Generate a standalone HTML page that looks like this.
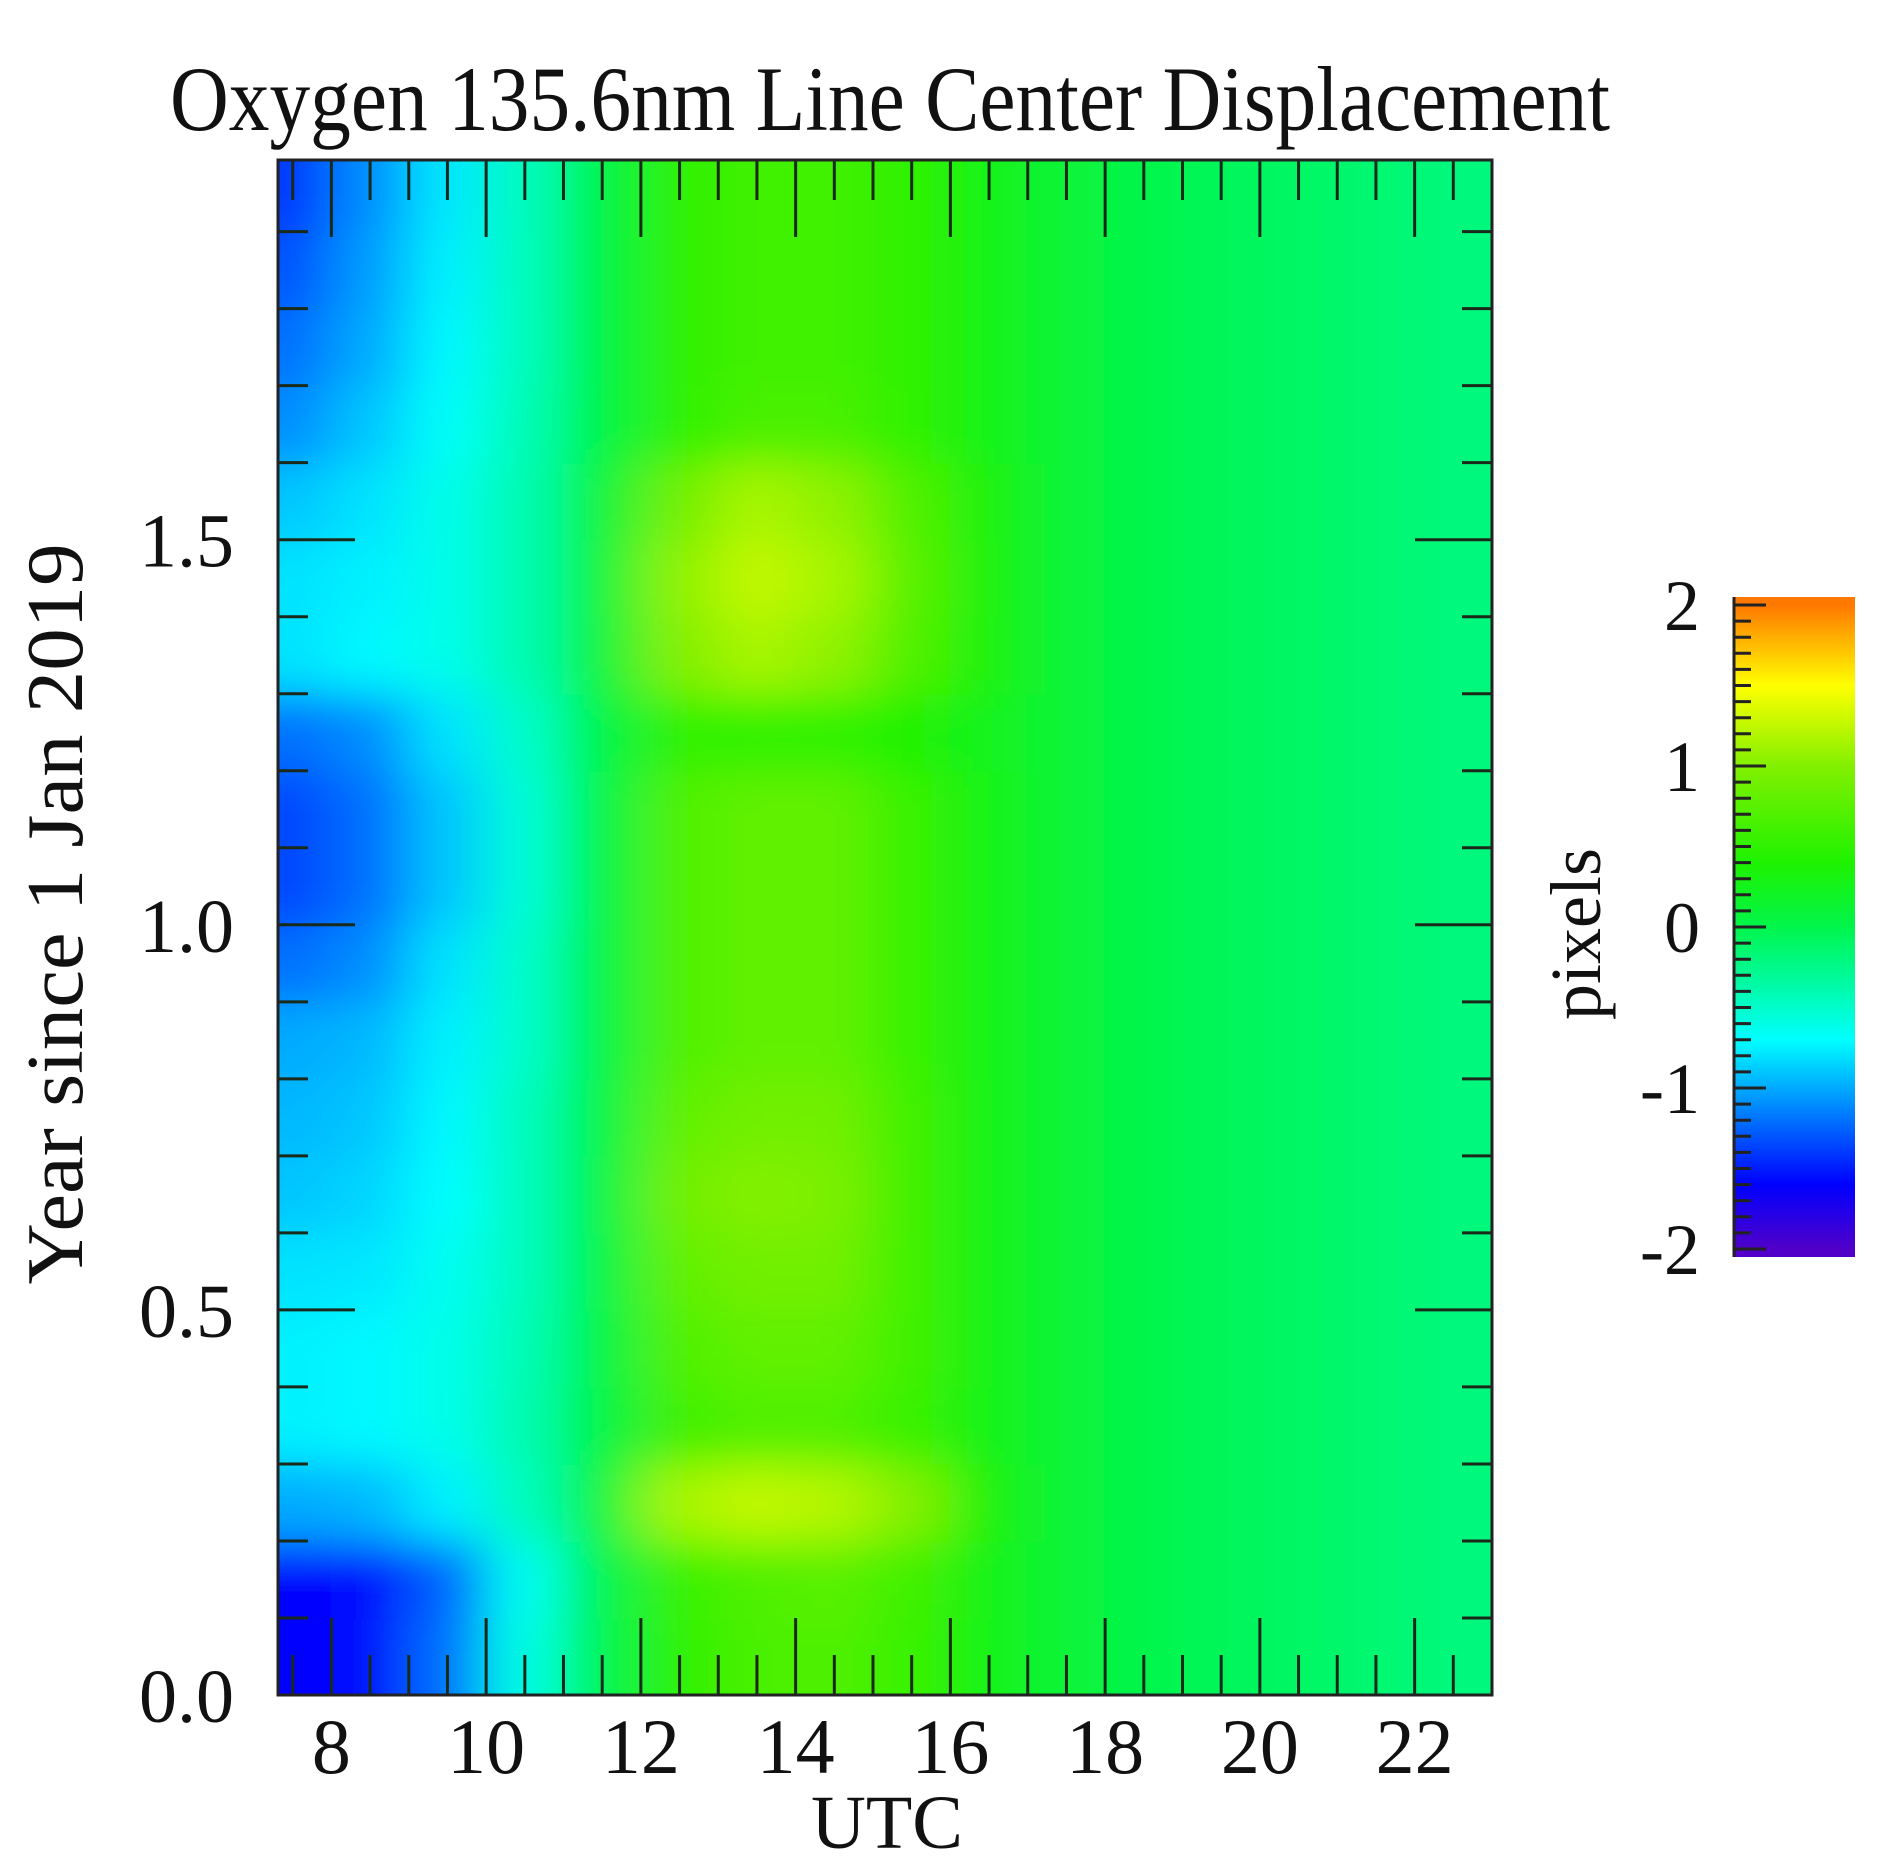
<!DOCTYPE html>
<html><head><meta charset="utf-8">
<style>
html,body{margin:0;padding:0;background:#fff;}
svg{display:block;}
text{font-family:"Liberation Serif",serif;fill:#111;}
</style></head>
<body>
<svg id="chart" width="1892" height="1873" viewBox="0 0 1892 1873" xmlns="http://www.w3.org/2000/svg">
<defs>
<clipPath id="plotclip"><rect x="278" y="160" width="1214" height="1535"/></clipPath>
<filter id="blur" filterUnits="userSpaceOnUse" x="0" y="0" width="1892" height="1873"><feGaussianBlur stdDeviation="28 22"/></filter>
<linearGradient id="cbgrad" x1="0" y1="1" x2="0" y2="0"></linearGradient>
</defs>
<rect x="0" y="0" width="1892" height="1873" fill="#fff"/>
<text x="170" y="130" font-size="92" textLength="1440" lengthAdjust="spacingAndGlyphs">Oxygen 135.6nm Line Center Displacement</text>
<g clip-path="url(#plotclip)"><g id="cells" filter="url(#blur)"></g></g>
<g id="ticks"></g>
<rect x="278" y="160" width="1214" height="1535" fill="none" stroke="#222" stroke-width="3"/>
<g id="xlabels"></g>
<g id="ylabels"></g>
<text x="887" y="1848" font-size="76" text-anchor="middle">UTC</text>
<text transform="translate(82,914) rotate(-90)" font-size="80" text-anchor="middle" textLength="741" lengthAdjust="spacingAndGlyphs">Year since 1 Jan 2019</text>
<rect id="cbar" x="1733" y="597" width="122" height="660" fill="url(#cbgrad)"/>
<g id="cbticks"></g>
<text transform="translate(1600,934) rotate(-90)" font-size="72" text-anchor="middle">pixels</text>
</svg>
<script>
const hours = [7.5,8.5,9.5,10.5,11.5,12.5,13.5,14.5,15.5,16.5,17.5,18.5,19.5,20.5,21.5,22.5];
const years = [0.05,0.15,0.25,0.35,0.45,0.55,0.65,0.75,0.85,0.95,1.05,1.15,1.25,1.35,1.45,1.55,1.65,1.75,1.85,1.95];
const values = [
[-1.6,-1.55,-1.2,-0.6,0.0,0.5,0.65,0.7,0.55,0.3,0.1,0.0,-0.05,-0.1,-0.15,-0.2],
[-1.6,-1.55,-1.25,-0.65,0.0,0.55,0.7,0.75,0.6,0.3,0.1,0.0,-0.05,-0.1,-0.15,-0.2],
[-1.0,-0.95,-0.75,-0.45,0.1,1.15,1.25,1.2,1.0,0.35,0.1,0.0,-0.05,-0.1,-0.15,-0.2],
[-0.75,-0.72,-0.62,-0.4,0.05,0.6,0.7,0.7,0.55,0.3,0.1,0.0,-0.05,-0.1,-0.15,-0.2],
[-0.75,-0.72,-0.62,-0.42,0.05,0.7,0.8,0.8,0.6,0.3,0.1,0.0,-0.05,-0.1,-0.15,-0.2],
[-0.8,-0.78,-0.65,-0.45,0.05,0.8,0.9,0.9,0.6,0.3,0.1,0.0,-0.05,-0.1,-0.15,-0.2],
[-0.9,-0.85,-0.7,-0.45,0.05,0.9,1.0,0.95,0.6,0.3,0.1,0.0,-0.05,-0.1,-0.15,-0.2],
[-0.95,-0.9,-0.72,-0.45,0.05,0.8,0.9,0.9,0.6,0.3,0.1,0.0,-0.05,-0.1,-0.15,-0.2],
[-1.0,-0.95,-0.75,-0.5,0.05,0.7,0.8,0.8,0.55,0.3,0.1,0.0,-0.05,-0.1,-0.15,-0.2],
[-1.2,-1.1,-0.8,-0.5,0.05,0.7,0.8,0.8,0.55,0.3,0.1,0.0,-0.05,-0.1,-0.15,-0.2],
[-1.35,-1.2,-0.9,-0.55,0.05,0.7,0.8,0.8,0.55,0.3,0.1,0.0,-0.05,-0.1,-0.15,-0.2],
[-1.35,-1.2,-0.9,-0.55,0.05,0.7,0.8,0.8,0.55,0.3,0.1,0.0,-0.05,-0.1,-0.15,-0.2],
[-1.2,-1.1,-0.8,-0.5,0.05,0.5,0.5,0.5,0.4,0.25,0.1,0.0,-0.05,-0.1,-0.15,-0.2],
[-0.8,-0.72,-0.62,-0.4,0.1,1.0,1.15,1.05,0.7,0.35,0.1,0.0,-0.05,-0.1,-0.15,-0.2],
[-0.8,-0.75,-0.62,-0.4,0.1,1.05,1.25,1.15,0.75,0.35,0.1,0.0,-0.05,-0.1,-0.15,-0.2],
[-0.9,-0.8,-0.62,-0.4,0.1,0.9,1.15,1.05,0.7,0.35,0.1,0.0,-0.05,-0.1,-0.15,-0.2],
[-1.1,-0.9,-0.68,-0.42,0.05,0.5,0.65,0.65,0.5,0.3,0.1,0.0,-0.05,-0.1,-0.15,-0.2],
[-1.2,-1.0,-0.72,-0.45,0.05,0.5,0.6,0.6,0.5,0.3,0.1,0.0,-0.05,-0.1,-0.15,-0.2],
[-1.3,-1.05,-0.75,-0.45,0.05,0.5,0.6,0.6,0.5,0.3,0.1,0.0,-0.05,-0.1,-0.15,-0.2],
[-1.4,-1.1,-0.78,-0.45,0.05,0.5,0.6,0.6,0.5,0.3,0.1,0.0,-0.05,-0.1,-0.15,-0.2]
];
const xTickLabels = [8,10,12,14,16,18,20,22];
const yTickLabels = ["0.0","0.5","1.0","1.5"];
const cbTickLabels = [-2,-1,0,1,2];

const NS = "http://www.w3.org/2000/svg";
const X0=278, X1=1492, Y0=1695, Y1=160;
const xMin=7.31, xMax=23.0, yMin=0, yMax=1.993;
function xs(h){return X0+(h-xMin)/(xMax-xMin)*(X1-X0);}
function ys(v){return Y0-(v-yMin)/(yMax-yMin)*(Y0-Y1);}
const CB_TOP=605, CB_BOT=1249;
function cs(v){return CB_BOT-(v+2)/4*(CB_BOT-CB_TOP);}
const stops=[[-2,[80,0,200]],[-1.6,[0,0,255]],[-1.0,[0,170,255]],[-0.7,[0,255,255]],[-0.3,[0,250,150]],[0,[0,245,75]],[0.4,[30,242,0]],[1.0,[130,240,0]],[1.5,[255,255,0]],[2,[255,120,0]]];
function color(v){
  v=Math.max(-2,Math.min(2,v));
  for(let i=0;i<stops.length-1;i++){
    const a=stops[i],b=stops[i+1];
    if(v<=b[0]){const t=(v-a[0])/(b[0]-a[0]);
      const c=a[1].map((q,k)=>Math.round(q+(b[1][k]-q)*t));
      return `rgb(${c[0]},${c[1]},${c[2]})`;}
  }
  return "rgb(255,120,0)";
}
function mk(tag,attrs,parent){const e=document.createElementNS(NS,tag);for(const k in attrs)e.setAttribute(k,attrs[k]);parent.appendChild(e);return e;}

const cells=document.getElementById('cells');
years.forEach((yv,ri)=>{
  hours.forEach((hv,ci)=>{
    let x=xs(hv-0.5), x2=xs(hv+0.5), y=ys(yv+0.05), y2=ys(yv-0.05);
    if(ci===0) x=X0-160;
    if(ci===hours.length-1) x2=X1+160;
    if(ri===0) y2=Y0+160;
    if(ri===years.length-1) y=Y1-160;
    const r=mk('rect',{x:x-1,y:y-1,width:x2-x+2,height:y2-y+2,fill:color(values[ri][ci])},cells);
    
    
  });
});
const ticks=document.getElementById('ticks');
for(let h=7.5;h<=23;h+=0.5){
  const major=(h%2===0), L=major?77:40, x=xs(h);
  const t1=mk('line',{x1:x,y1:Y0,x2:x,y2:Y0-L,stroke:'#1a2a1a','stroke-width':3},ticks);
  
  
  const t2=mk('line',{x1:x,y1:Y1,x2:x,y2:Y1+L,stroke:'#1a2a1a','stroke-width':3},ticks);
  
  
}
for(let i=1;i<=19;i++){
  const v=i/10, major=(i%5===0), L=major?77:30, y=ys(v);
  const t1=mk('line',{x1:X0,y1:y,x2:X0+L,y2:y,stroke:'#1a2a1a','stroke-width':3},ticks);
  
  
  const t2=mk('line',{x1:X1,y1:y,x2:X1-L,y2:y,stroke:'#1a2a1a','stroke-width':3},ticks);
  
  
}
const xl=document.getElementById('xlabels');
xTickLabels.forEach(v=>{
  const t=mk('text',{x:xs(v),y:1773,'font-size':78,'text-anchor':'middle'},xl);
  t.textContent=v;
  
  
});
const yl=document.getElementById('ylabels');
yTickLabels.forEach(v=>{
  const t=mk('text',{x:234,y:ys(parseFloat(v))+27,'font-size':76,'text-anchor':'end'},yl);
  t.textContent=v;
  
  
});
const g=document.querySelector('#cbgrad');
for(let v=-2;v<=2.001;v+=0.1){
  const off=(cs(-2)-cs(v)+ (1257-CB_BOT))/660;
  mk('stop',{offset:Math.max(0,Math.min(1,off)),'stop-color':color(v)},g);
}
const cbt=document.getElementById('cbticks');
for(let i=-20;i<=20;i++){
  const y=cs(i/10), L=(i%10===0)?33:18;
  const t=mk('line',{x1:1733,y1:y,x2:1733+L,y2:y,stroke:'#222','stroke-width':3},cbt);
  
  
}
mk('line',{x1:1734,y1:597,x2:1734,y2:1257,stroke:'#222','stroke-width':3},cbt);
cbTickLabels.forEach(v=>{
  const t=mk('text',{x:1700,y:cs(v)+25,'font-size':72,'text-anchor':'end'},cbt);
  t.textContent=v;
  
  
});
</script>
</body></html>
